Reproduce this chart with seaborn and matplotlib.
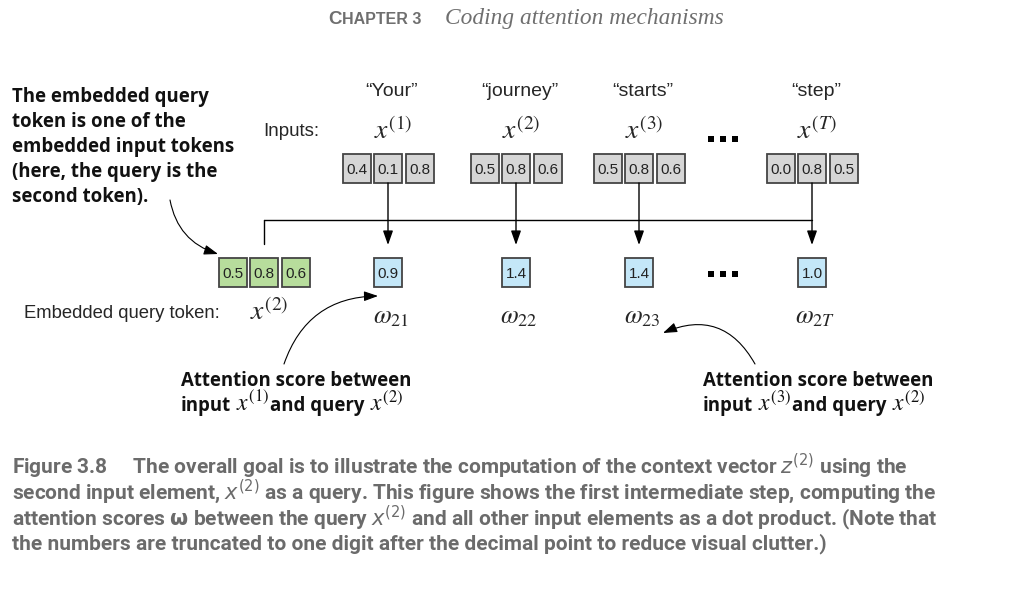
import matplotlib
matplotlib.use("Agg")
import matplotlib.pyplot as plt
from matplotlib.patches import Rectangle
import seaborn as sns
import pandas as pd

# data shown in the figure
tokens = ["\u201cYour\u201d", "\u201cjourney\u201d", "\u201cstarts\u201d", "\u201cstep\u201d"]
input_labels = [r"$x^{(1)}$", r"$x^{(2)}$", r"$x^{(3)}$", r"$x^{(T)}$"]
embeddings = [[0.4, 0.1, 0.8], [0.5, 0.8, 0.6], [0.5, 0.8, 0.6], [0.0, 0.8, 0.5]]
query = [0.5, 0.8, 0.6]
scores = [0.9, 1.4, 1.4, 1.0]
score_labels = [r"$\omega_{21}$", r"$\omega_{22}$", r"$\omega_{23}$", r"$\omega_{2T}$"]

caption = [
    "Figure 3.8     The overall goal is to illustrate the computation of the context vector $z^{(2)}$ using the",
    "second input element, $x^{(2)}$ as a query. This figure shows the first intermediate step, computing the",
    r"attention scores $\mathbf{\omega}$ between the query $x^{(2)}$ and all other input elements as a dot product. (Note that",
    "the numbers are truncated to one digit after the decimal point to reduce visual clutter.)",
]
note_query = ["The embedded query", "token is one of the", "embedded input tokens",
              "(here, the query is the", "second token)."]

# layout in pixels of the 1029x593 page
col_x = [388, 516, 639, 812]
query_x = 264
cell_w, cell_h, cell_gap = 28, 29, 3.5
GRAY, GREEN, BLUE = "#d6d6d6", "#b7dd9c", "#c4e7f8"
EDGE = "#444444"
ARIAL = ["Liberation Sans", "DejaVu Sans"]
BOLD = ["Open Sans", "DejaVu Sans"]
NARROW = ["Roboto", "DejaVu Sans"]
HEAD = "#6f6f6f"

sns.set_theme(style="white")
fig = plt.figure(figsize=(10.29, 5.93), dpi=100)
ax = fig.add_axes([0, 0, 1, 1])
ax.set_xlim(0, 1029)
ax.set_ylim(593, 0)
ax.axis("off")
renderer = fig.canvas.get_renderer()


def run(x, y, pieces):
    # write pieces of text one after another on a common baseline
    for s, gap, kw in pieces:
        t = ax.text(x, y, s, va="baseline", **kw)
        bb = t.get_window_extent(renderer)
        x = ax.transData.inverted().transform((bb.x1, bb.y0))[0] + gap


def cells(cx, top, values, color):
    n = len(values)
    step = cell_w + cell_gap
    x0 = cx - (n * cell_w + (n - 1) * cell_gap) / 2
    for i, v in enumerate(values):
        ax.add_patch(Rectangle((x0 + i * step, top), cell_w, cell_h,
                               facecolor=color, edgecolor=EDGE, lw=1.3))
        ax.text(x0 + i * step + cell_w / 2, top + cell_h / 2 + 1, f"{v:.1f}",
                ha="center", va="center", fontsize=11, family=ARIAL, color="#222222")


def arrow(start, end, rad=0.0, lw=1.0):
    ax.annotate("", xy=end, xytext=start,
                arrowprops=dict(arrowstyle="-|>,head_length=8.5,head_width=3.0",
                                mutation_scale=1, color="black", lw=lw,
                                shrinkA=0, shrinkB=0,
                                connectionstyle=f"arc3,rad={rad}"))


# header
run(328, 24, [("C", 0.5, dict(fontsize=13.5, weight="bold", family=ARIAL, color=HEAD)),
              ("HAPTER 3", 0, dict(fontsize=11.5, weight="bold", family=ARIAL, color=HEAD))])
ax.text(445, 24, "Coding attention mechanisms", fontsize=16.8, style="italic",
        family=["Liberation Serif", "DejaVu Serif"], color=HEAD, va="baseline")

# inputs row
ax.text(263, 131, "Inputs:", fontsize=13.5, family=ARIAL, va="center")
for cx, tok, lab, emb in zip(col_x, tokens, input_labels, embeddings):
    ax.text(cx + 4, 91, tok, fontsize=14, family=ARIAL, ha="center", va="center")
    ax.text(cx + 5, 131, lab, fontsize=20, ha="center", va="center", math_fontfamily="stix")
    cells(cx, 154, emb, GRAY)
    arrow((cx, 183), (cx, 245))

# connector from the query
ax.plot([query_x, col_x[-1]], [220, 220], color="black", lw=1.0)
ax.plot([query_x, query_x], [220, 244], color="black", lw=1.0)

# query and scores row
cells(query_x, 258, query, GREEN)
for cx, s, lab in zip(col_x, scores, score_labels):
    cells(cx, 258, [s], BLUE)
    ax.text(cx + 3, 316, lab, fontsize=18.5, ha="center", va="center", math_fontfamily="stix")
ax.text(24, 314, "Embedded query token:", fontsize=13.3, family=ARIAL, va="center")
ax.text(269, 312, r"$x^{(2)}$", fontsize=20, ha="center", va="center", math_fontfamily="stix")

# ellipsis dots
dots = pd.DataFrame({"x": [711, 723, 735] * 2, "y": [139] * 3 + [274] * 3})
sns.scatterplot(data=dots, x="x", y="y", marker="s", s=16, color="black",
                linewidth=0, ax=ax, legend=False)
ax.set_xlim(0, 1029)
ax.set_ylim(593, 0)
ax.set_xlabel("")
ax.set_ylabel("")

# annotations
for i, line in enumerate(note_query):
    ax.text(12, 97 + 25 * i, line, fontsize=13.4, weight="bold", family=BOLD,
            va="center", color="#111111")
arrow((170, 200), (218, 254), rad=0.3, lw=0.8)

bold = dict(fontsize=13.4, weight="bold", family=BOLD, color="#111111")
mth = dict(fontsize=17, math_fontfamily="stix", color="#111111")
for x0, k in [(181, 1), (703, 3)]:
    ax.text(x0, 386, "Attention score between", va="baseline", **bold)
    run(x0, 411, [("input", 5, bold), (f"$x^{{({k})}}$", 1, mth),
                  ("and query", 5, bold), ("$x^{(2)}$", 0, mth)])
arrow((284, 364), (378, 296), rad=-0.35, lw=0.8)
arrow((755, 364), (663, 333), rad=0.45, lw=0.8)

# caption
for i, line in enumerate(caption):
    ax.text(12, 466 + 26 * i, line, fontsize=15, weight="bold", family=NARROW,
            color="#6b6b6b", va="center", math_fontfamily="dejavusans")

fig.savefig("out.png", dpi=100)
